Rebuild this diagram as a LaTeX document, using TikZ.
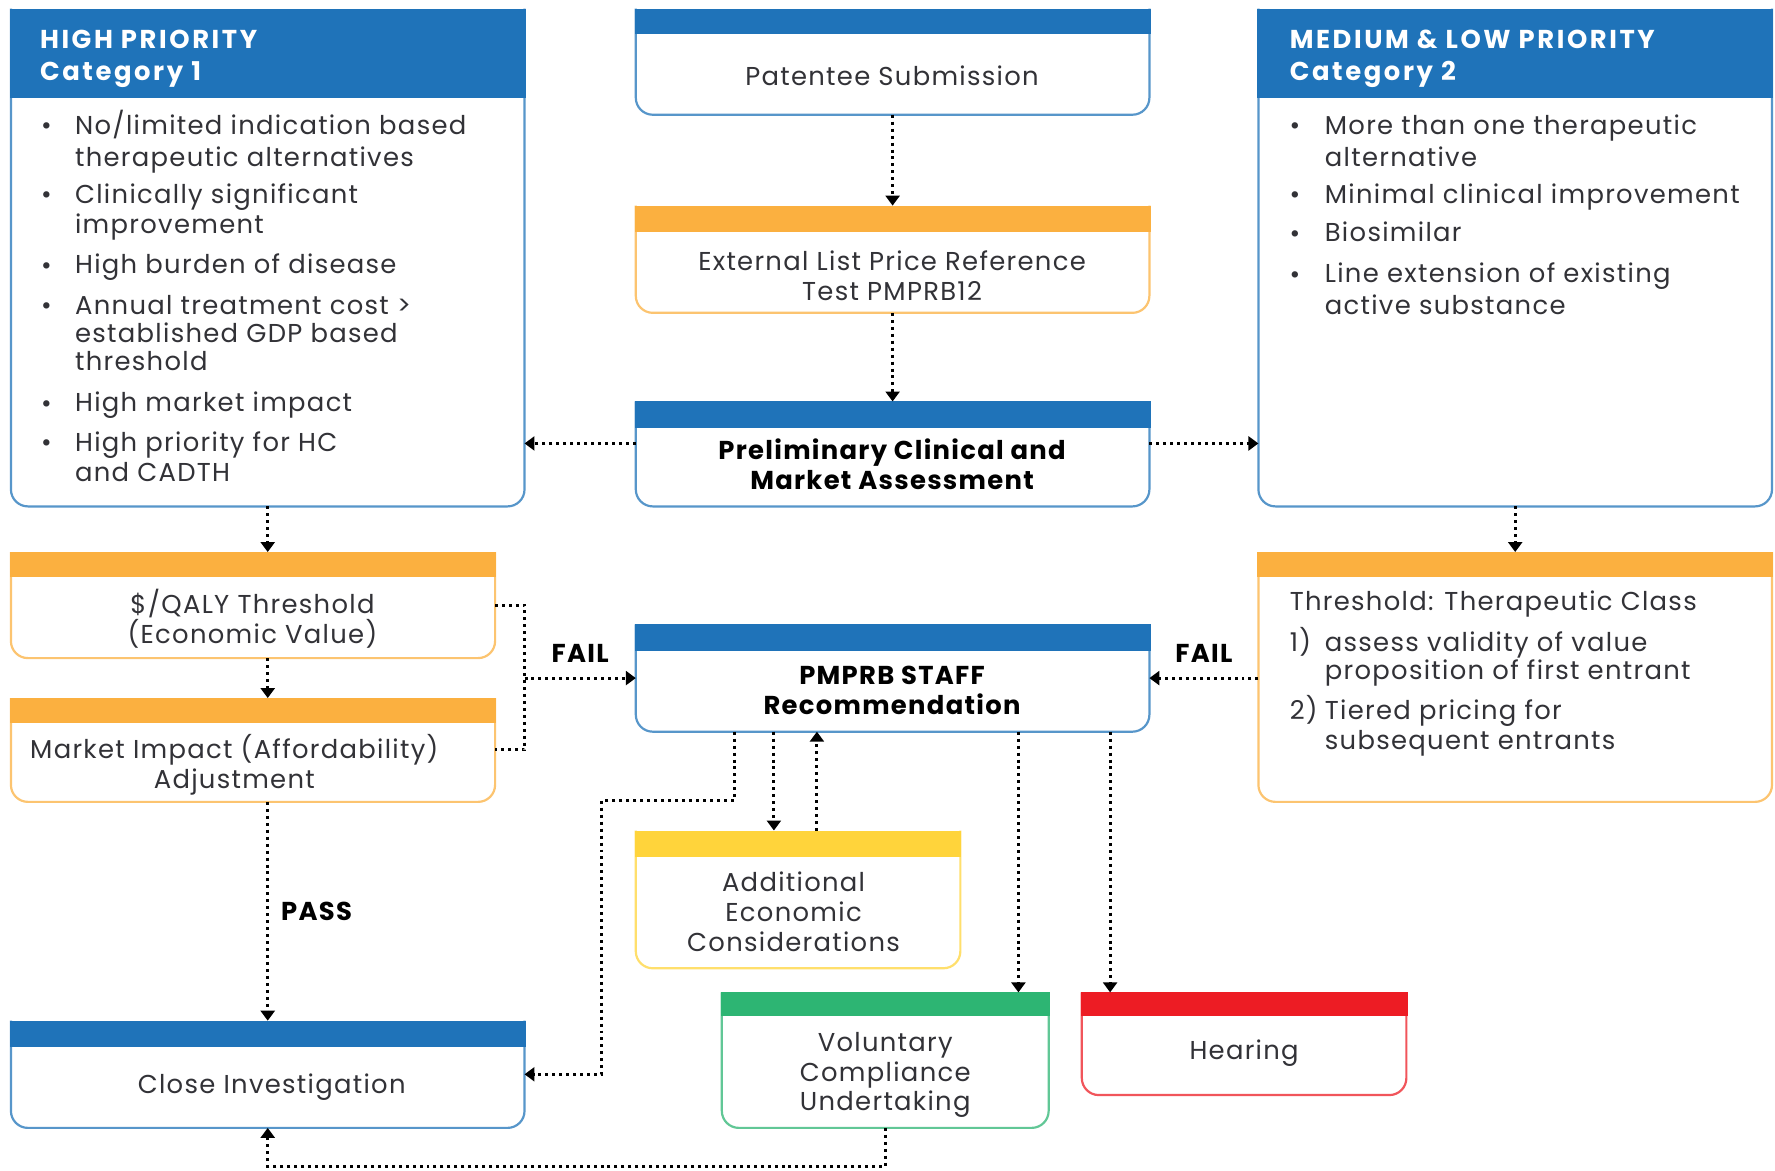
\documentclass[tikz,border=0pt]{standalone}
\usepackage{fontspec}
\setmainfont{Poppins}[LetterSpace=5]
\usetikzlibrary{arrows.meta,calc,fit}

\definecolor{pblue}{RGB}{31,115,185}
\definecolor{porange}{RGB}{251,176,64}
\definecolor{pyellow}{RGB}{255,212,59}
\definecolor{pgreen}{RGB}{45,181,115}
\definecolor{pred}{RGB}{237,28,36}
\definecolor{ptext}{RGB}{50,50,55}

\tikzset{
  frame/.style={fit={#1}, inner sep=0pt},
  txt/.style={font=\fontsize{13}{15}\selectfont, text=ptext, inner sep=0pt, yshift=-1.5pt},
  row/.style={txt, anchor=mid west, yshift=-0.7pt},
  head/.style={font=\fontsize{13}{15}\selectfont\bfseries\addfontfeature{LetterSpace=10},
    text=white, anchor=mid west, inner sep=0pt, yshift=-2.2pt},
  lbl/.style={font=\fontsize{13}{15}\selectfont\bfseries, text=black, inner sep=0pt, align=center},
  dots/.style={line width=1.5pt, dash pattern=on 1.5pt off 2pt},
  flow/.style={dots, -{Triangle[width=7pt,length=5pt]}}
}

\begin{document}
\begin{tikzpicture}[x=0.02cm, y=-0.02cm]
  \fill[white] (0,0) rectangle (1568,1034);
  \useasboundingbox (0,0) rectangle (1568,1034);

  % boxes
  \node[frame={(10,8) (463,447)}] (high) {};
  \node[frame={(562,8) (1015,101)}] (pat) {};
  \node[frame={(562,182) (1015,276)}] (elp) {};
  \node[frame={(562,355) (1015,447)}] (prelim) {};
  \node[frame={(1112,8) (1565,447)}] (medlow) {};
  \node[frame={(10,488) (437,581)}] (qaly) {};
  \node[frame={(10,617) (437,708)}] (mkt) {};
  \node[frame={(1112,488) (1565,708)}] (thera) {};
  \node[frame={(562,552) (1015,646)}] (staff) {};
  \node[frame={(562,734) (848,855)}] (addl) {};
  \node[frame={(10,902) (463,996)}] (close) {};
  \node[frame={(638,877) (926,996)}] (vcu) {};
  \node[frame={(956,877) (1242,967)}] (hear) {};

  \foreach \n/\c/\h in {high/pblue/79, pat/pblue/22, elp/porange/23, prelim/pblue/23,
      medlow/pblue/79, qaly/porange/22, mkt/porange/22, thera/porange/22, staff/pblue/23,
      addl/pyellow/23, close/pblue/23, vcu/pgreen/21, hear/pred/21}{
    \draw[\c!75, line width=1.1pt, rounded corners=0.3cm]
      (\n.north west) -- (\n.south west) -- (\n.south east) -- (\n.north east);
    \fill[\c] ($(\n.north west)+(-1,0)$) rectangle ($(\n.north east)+(1,\h)$);
  }

  % headers
  \node[head] (hight1) at (35,34) {HIGH PRIORITY};
  \node[head] (hight2) at (35,62) {Category 1};
  \node[head] (medt1) at (1139,34) {MEDIUM \& LOW PRIORITY};
  \node[head] (medt2) at (1139,62) {Category 2};

  % bullet lists
  \foreach \y [count=\i] in {110,171,233,269,355,390}
    \node[txt, yshift=-0.7pt] (hb\i) at (41,\y) {•};
  \foreach \y/\t [count=\i] in {110/{No/limited indication based}, 138/therapeutic alternatives,
      171/Clinically significant, 198/improvement, 233/High burden of disease,
      269/Annual treatment cost >, 294/established GDP based, 319/threshold,
      355/High market impact, 390/High priority for HC, 417/and CADTH}
    \node[row] (hl\i) at (66,\y) {\t};
  \foreach \y [count=\i] in {110,171,205,241}
    \node[txt, yshift=-0.7pt] (mb\i) at (1144,\y) {•};
  \foreach \y/\t [count=\i] in {110/More than one therapeutic, 138/alternative,
      171/Minimal clinical improvement, 205/Biosimilar,
      241/Line extension of existing, 269/active substance}
    \node[row] (ml\i) at (1170,\y) {\t};

  \node[row] (th1) at (1139,531) {Threshold: Therapeutic Class};
  \node[row] (th2) at (1139,567) {1)};
  \node[row] (th3) at (1139,627) {2)};
  \foreach \y/\t [count=\i] in {567/assess validity of value, 592/proposition of first entrant,
      627/Tiered pricing for, 653/subsequent entrants}
    \node[row] (tl\i) at (1170,\y) {\t};

  % box texts
  \node[txt] (patt) at (788,64) {Patentee Submission};
  \node[txt, align=center] (elpt) at (788,241) {External List Price Reference\\Test PMPRB12};
  \node[lbl] (prelimt) at (788,410) {Preliminary Clinical and\\Market Assessment};
  \node[txt, align=center] (qalyt) at (223,544) {\$/QALY Threshold\\(Economic Value)};
  \node[txt, align=center] (mktt) at (207,673) {Market Impact (Affordability)\\Adjustment};
  \node[lbl] (stafft) at (788,610) {PMPRB STAFF\\Recommendation};
  \node[txt, align=center] (addlt) at (701,803) {Additional\\Economic\\Considerations};
  \node[txt] (closet) at (240,958) {Close Investigation};
  \node[txt, align=center] (vcut) at (782,947) {Voluntary\\Compliance\\Undertaking};
  \node[txt] (heart) at (1099,928) {Hearing};

  % connectors
  \draw[flow] (pat.south) -- (elp.north);
  \draw[flow] (elp.south) -- (prelim.north);
  \draw[flow] ($(prelim.north west)!0.4!(prelim.south west)$) coordinate (pl) -- (pl -| high.east);
  \draw[flow] ($(prelim.north east)!0.4!(prelim.south east)$) coordinate (pr) -- (pr -| medlow.west);
  \draw[flow] (high.south) -- (high.south |- qaly.north);
  \draw[flow] (high.south |- qaly.south) -- (high.south |- mkt.north);
  \draw[flow] (mkt.south -| close.north) -- (close.north)
    node[lbl, midway, right=6] (pass) {PASS};
  \draw[flow] (medlow.south) -- (medlow.south |- thera.north);

  \coordinate (failL) at ($(qaly.east)!0.5!(mkt.east)+(26,0)$);
  \draw[dots] (qaly.east) -| (failL) |- (mkt.east);
  \draw[flow] (failL |- staff.west) -- (staff.west)
    node[lbl, midway, above=7] (fail1) {FAIL};
  \draw[flow] (thera.west |- staff.east) -- (staff.east)
    node[lbl, midway, above=7] (fail2) {FAIL};

  \draw[flow] ($(staff.south west)+(87,0)$) -- ++(0,61) -| ($(close.east)+(68,0)$) -- (close.east);
  \draw[flow] ($(staff.south west)+(122,0)$) -- ($(addl.north west)+(122,0)$);
  \draw[flow] ($(addl.north west)+(160,0)$) -- ($(staff.south west)+(160,0)$);
  \draw[flow] ($(staff.south west)+(338,0)$) -- ($(vcu.north west)+(262,0)$);
  \draw[flow] ($(staff.south west)+(419,0)$) -- ($(hear.north west)+(25,0)$);
  \draw[flow] (vcu.south) -- ++(0,34) -| (close.south);
\end{tikzpicture}
\end{document}
